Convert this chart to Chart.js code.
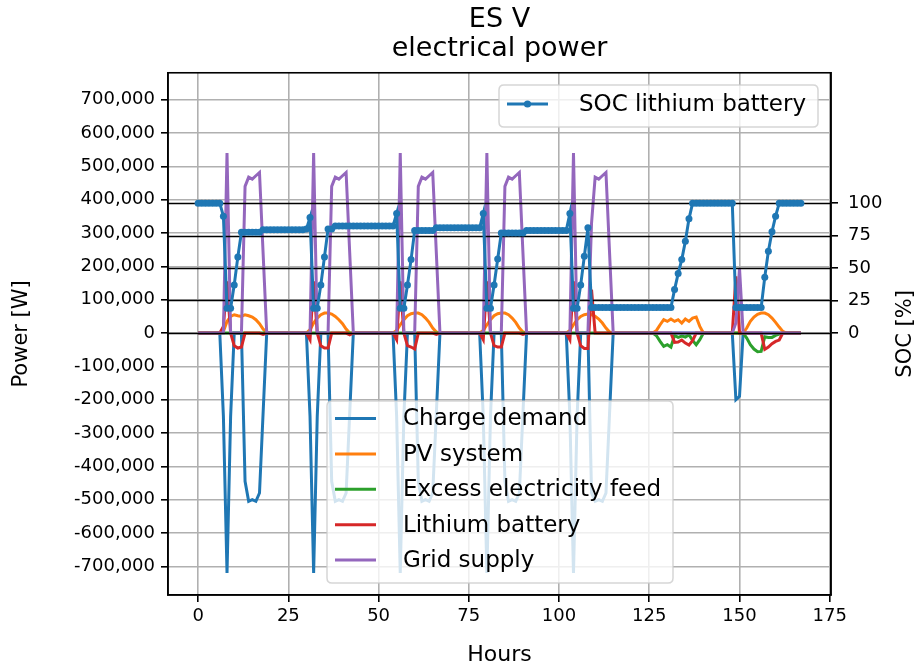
<!DOCTYPE html>
<html>
<head>
<meta charset="utf-8">
<script src="https://cdn.jsdelivr.net/npm/chart.js@4.4.1/dist/chart.umd.min.js"></script>
<style>
html, body { margin: 0; padding: 0; background: #fff; }
</style>
</head>
<body>
<canvas id="chart" width="923" height="666"></canvas>
<script>
//tick values for the three axes
const xTicks = [0, 25, 50, 75, 100, 125, 150, 175];
const powerTicks = [-700000, -600000, -500000, -400000, -300000, -200000, -100000, 0, 100000, 200000, 300000, 400000, 500000, 600000, 700000];
const socTicks = [0, 25, 50, 75, 100];

//one value per hour, 168 hours (one week), rows are days
const chargeDemand = [
    0, 0, 0, 0, 0, 0, 0, -250000, -720000, -250000, 0, 0, 0, -445000, -505000, -500000, -505000, -480000, -240000, 0, 0, 0, 0, 0,
    0, 0, 0, 0, 0, 0, 0, -250000, -720000, -250000, 0, 0, 0, -445000, -505000, -500000, -505000, -480000, -240000, 0, 0, 0, 0, 0,
    0, 0, 0, 0, 0, 0, 0, -250000, -720000, -250000, 0, 0, 0, -445000, -505000, -500000, -505000, -480000, -240000, 0, 0, 0, 0, 0,
    0, 0, 0, 0, 0, 0, 0, -250000, -720000, -250000, 0, 0, 0, -445000, -505000, -500000, -505000, -480000, -240000, 0, 0, 0, 0, 0,
    0, 0, 0, 0, 0, 0, 0, -250000, -720000, -250000, 0, 0, 0, -480000, -505000, -500000, -505000, -480000, -240000, 0, 0, 0, 0, 0,
    0, 0, 0, 0, 0, 0, 0, 0, 0, 0, 0, 0, 0, 0, 0, 0, 0, 0, 0, 0, 0, 0, 0, 0,
    0, 0, 0, 0, 0, -200000, -190000, 0, 0, 0, 0, 0, 0, 0, 0, 0, 0, 0, 0, 0, 0, 0, 0, 0
];
const pvSystem = [
    0, 0, 0, 0, 0, 0, 0, 5000, 35000, 50000, 55000, 52000, 50000, 55000, 52000, 48000, 40000, 28000, 12000, 0, 0, 0, 0, 0,
    0, 0, 0, 0, 0, 0, 0, 10000, 30000, 45000, 55000, 60000, 60000, 57000, 50000, 40000, 28000, 12000, 0, 0, 0, 0, 0, 0,
    0, 0, 0, 0, 0, 0, 0, 8000, 25000, 40000, 52000, 58000, 60000, 60000, 55000, 45000, 32000, 15000, 3000, 0, 0, 0, 0, 0,
    0, 0, 0, 0, 0, 0, 0, 8000, 25000, 40000, 52000, 58000, 60000, 60000, 55000, 45000, 32000, 15000, 3000, 0, 0, 0, 0, 0,
    0, 0, 0, 0, 0, 0, 0, 8000, 25000, 40000, 50000, 55000, 57000, 55000, 50000, 42000, 30000, 15000, 3000, 0, 0, 0, 0, 0,
    0, 0, 0, 0, 0, 0, 0, 8000, 25000, 40000, 35000, 42000, 35000, 40000, 30000, 42000, 35000, 45000, 48000, 20000, 0, 0, 0, 0,
    0, 0, 0, 0, 0, 0, 0, 0, 15000, 35000, 48000, 56000, 60000, 60000, 55000, 45000, 32000, 18000, 5000, 0, 0, 0, 0, 0
];
const excessFeed = [
    0, 0, 0, 0, 0, 0, 0, 0, 0, 0, 0, 0, 0, 0, 0, 0, 0, 0, 0, 0, 0, 0, 0, 0,
    0, 0, 0, 0, 0, 0, 0, 0, 0, 0, 0, 0, 0, 0, 0, 0, 0, 0, 0, 0, 0, 0, 0, 0,
    0, 0, 0, 0, 0, 0, 0, 0, 0, 0, 0, 0, 0, 0, 0, 0, 0, 0, 0, 0, 0, 0, 0, 0,
    0, 0, 0, 0, 0, 0, 0, 0, 0, 0, 0, 0, 0, 0, 0, 0, 0, 0, 0, 0, 0, 0, 0, 0,
    0, 0, 0, 0, 0, 0, 0, 0, 0, 0, 0, 0, 0, 0, 0, 0, 0, 0, 0, 0, 0, 0, 0, 0,
    0, 0, 0, 0, 0, 0, 0, -8000, -25000, -40000, -35000, -42000, -7000, -13000, -9000, -12000, -5000, -22000, -35000, -20000, 0, 0, 0, 0,
    0, 0, 0, 0, 0, 0, 0, 0, -15000, -35000, -48000, -56000, -55000, -11000, -13000, -13000, -7000, -3000, 0, 0, 0, 0, 0, 0
];
const lithiumBattery = [
    0, 0, 0, 0, 0, 0, 0, 20000, 155000, 0, -38000, -45000, -42000, 0, 0, 0, 0, 0, -4000, 0, 0, 0, 0, 0,
    0, 0, 0, 0, 0, 0, 0, -20000, 155000, 0, -38000, -45000, -45000, 0, 0, 0, 0, 0, -5000, 0, 0, 0, 0, 0,
    0, 0, 0, 0, 0, 0, 0, -20000, 155000, 0, -38000, -42000, -48000, 0, 0, 0, 0, 0, -4000, 0, 0, 0, 0, 0,
    0, 0, 0, 0, 0, 0, 0, -20000, 155000, 0, -38000, -42000, -42000, 0, 0, 0, 0, 0, -4000, 0, 0, 0, 0, 0,
    0, 0, 0, 0, 0, 0, 0, -20000, 155000, 0, -38000, -46000, -46000, 130000, 0, 0, 0, 0, 0, 0, 0, 0, 0, 0,
    0, 0, 0, 0, 0, 0, 0, 0, 0, 0, 0, 0, -28000, -27000, -21000, -30000, -36000, -23000, 0, 0, 0, 0, 0, 0,
    0, 0, 0, 0, 0, 170000, 0, 0, 0, 0, 0, 0, 0, -49000, -42000, -32000, -25000, -21000, 0, 0, 0, 0, 0, 0
];
const gridSupply = [
    0, 0, 0, 0, 0, 0, 0, 0, 540000, 0, 0, 0, 0, 440000, 468000, 462000, 472000, 482000, 240000, 0, 0, 0, 0, 0,
    0, 0, 0, 0, 0, 0, 0, 0, 540000, 0, 0, 0, 0, 440000, 468000, 462000, 472000, 482000, 240000, 0, 0, 0, 0, 0,
    0, 0, 0, 0, 0, 0, 0, 0, 540000, 0, 0, 0, 0, 440000, 468000, 462000, 472000, 482000, 240000, 0, 0, 0, 0, 0,
    0, 0, 0, 0, 0, 0, 0, 0, 540000, 0, 0, 0, 0, 440000, 468000, 462000, 472000, 482000, 240000, 0, 0, 0, 0, 0,
    0, 0, 0, 0, 0, 0, 0, 0, 540000, 0, 0, 0, 0, 330000, 468000, 462000, 472000, 482000, 240000, 0, 0, 0, 0, 0,
    0, 0, 0, 0, 0, 0, 0, 0, 0, 0, 0, 0, 0, 0, 0, 0, 0, 0, 0, 0, 0, 0, 0, 0,
    0, 0, 0, 0, 0, 30000, 195000, 0, 0, 0, 0, 0, 0, 0, 0, 0, 0, 0, 0, 0, 0, 0, 0, 0
];
const socBattery = [
    100, 100, 100, 100, 100, 100, 100, 90, 19, 19, 37, 58.6, 77.5, 77.5, 77.5, 77.5, 77.5, 77.5, 79.5, 79.5, 79.5, 79.5, 79.5, 79.5,
    79.5, 79.5, 79.5, 79.5, 79.5, 79.5, 80, 89, 19, 19, 37, 58.6, 80, 80, 82.5, 82.5, 82.5, 82.5, 82.5, 82.5, 82.5, 82.5, 82.5, 82.5,
    82.5, 82.5, 82.5, 82.5, 82.5, 82.5, 82.5, 92, 19, 19, 37, 56.5, 79, 79, 79, 79, 79, 79, 81, 81, 81, 81, 81, 81,
    81, 81, 81, 81, 81, 81, 81, 92, 19, 19, 37, 57, 77, 77, 77, 77, 77, 77, 77, 79, 79, 79, 79, 79,
    79, 79, 79, 79, 79, 79, 79, 92, 19, 19, 37, 59, 81, 19.5, 19.5, 19.5, 19.5, 19.5, 19.5, 19.5, 19.5, 19.5, 19.5, 19.5,
    19.5, 19.5, 19.5, 19.5, 19.5, 19.5, 19.5, 19.5, 19.5, 19.5, 19.5, 19.5, 33.4, 45.7, 56.5, 70.6, 87.9, 100, 100, 100, 100, 100, 100, 100,
    100, 100, 100, 100, 100, 19.6, 19.6, 19.6, 19.6, 19.6, 19.6, 19.6, 19.6, 43, 63, 78, 90, 100, 100, 100, 100, 100, 100, 100
];
const hours = socBattery.map((v, i) => i);

const fontFamily = 'DejaVu Sans';
const gridGrey = '#b0b0b0';

function toPoints(values) {
    return values.map((v, i) => ({x: hours[i], y: v}));
}

function setTicks(values) {
    return function(scale) {
        scale.ticks = values.map(v => ({value: v}));
    };
}

//power lines under the black SOC grid, SOC line on top (like a matplotlib twin axis)
const powerSeries = [
    {label: 'Charge demand', data: chargeDemand, color: '#1f77b4'},
    {label: 'PV system', data: pvSystem, color: '#ff7f0e'},
    {label: 'Excess electricity feed', data: excessFeed, color: '#2ca02c'},
    {label: 'Lithium battery', data: lithiumBattery, color: '#d62728'},
    {label: 'Grid supply', data: gridSupply, color: '#9467bd'}
];

const datasets = powerSeries.map((s, i) => ({
    label: s.label,
    data: toPoints(s.data),
    borderColor: s.color,
    backgroundColor: s.color,
    borderWidth: 3,
    pointRadius: 0,
    yAxisID: 'y',
    order: powerSeries.length - i
}));
datasets.push({
    label: 'SOC lithium battery',
    data: toPoints(socBattery),
    borderColor: '#1f77b4',
    backgroundColor: '#1f77b4',
    borderWidth: 3,
    pointRadius: 3.5,
    pointBorderWidth: 0,
    yAxisID: 'y2',
    order: 0
});

function roundRect(ctx, x, y, w, h, r) {
    ctx.beginPath();
    ctx.moveTo(x + r, y);
    ctx.lineTo(x + w - r, y);
    ctx.quadraticCurveTo(x + w, y, x + w, y + r);
    ctx.lineTo(x + w, y + h - r);
    ctx.quadraticCurveTo(x + w, y + h, x + w - r, y + h);
    ctx.lineTo(x + r, y + h);
    ctx.quadraticCurveTo(x, y + h, x, y + h - r);
    ctx.lineTo(x, y + r);
    ctx.quadraticCurveTo(x, y, x + r, y);
    ctx.closePath();
}

//draws a matplotlib style legend box
function drawLegend(ctx, box, items, withMarker) {
    ctx.save();
    roundRect(ctx, box.x, box.y, box.w, box.h, 5);
    ctx.fillStyle = 'rgba(255,255,255,0.8)';
    ctx.fill();
    ctx.strokeStyle = 'rgba(204,204,204,0.8)';
    ctx.lineWidth = 1.5;
    ctx.stroke();
    ctx.font = '23px ' + fontFamily;
    ctx.textBaseline = 'middle';
    ctx.fillStyle = '#000';
    items.forEach((it, i) => {
        const y = box.y + box.first + i * box.step;
        ctx.strokeStyle = it.color;
        ctx.lineWidth = 3;
        ctx.beginPath();
        ctx.moveTo(box.x + 8, y);
        ctx.lineTo(box.x + 8 + box.line, y);
        ctx.stroke();
        if (withMarker) {
            ctx.fillStyle = it.color;
            ctx.beginPath();
            ctx.arc(box.x + 8 + box.line / 2, y, 3.6, 0, Math.PI * 2);
            ctx.fill();
            ctx.fillStyle = '#000';
        }
        ctx.fillText(it.label, box.x + box.textX, y + 1);
    });
    ctx.restore();
}

const extras = {
    id: 'extras',
    afterDatasetDraw(chart, args) {
        //black grid of the SOC axis goes over the power lines but under the SOC line
        if (args.index !== powerSeries.length - 1) return;
        const ctx = chart.ctx;
        const area = chart.chartArea;
        const y2 = chart.scales.y2;
        ctx.save();
        ctx.strokeStyle = '#000';
        ctx.lineWidth = 1.6;
        socTicks.forEach(v => {
            const y = Math.round(y2.getPixelForValue(v)) + 0.5;
            ctx.beginPath();
            ctx.moveTo(area.left, y);
            ctx.lineTo(area.right, y);
            ctx.stroke();
        });
        ctx.restore();
    },
    afterDatasetsDraw(chart) {
        const ctx = chart.ctx;
        const area = chart.chartArea;
        ctx.save();
        ctx.strokeStyle = '#000';
        ctx.lineWidth = 1.6;
        ctx.strokeRect(area.left, area.top, area.right - area.left, area.bottom - area.top);
        ctx.restore();

        drawLegend(ctx, {x: 327, y: 401, w: 346, h: 182, first: 17.5, step: 35.4, line: 41, textX: 76},
            powerSeries.map(s => ({label: s.label, color: s.color})), false);
        drawLegend(ctx, {x: 499, y: 85, w: 319, h: 42, first: 19, step: 0, line: 41, textX: 80},
            [{label: 'SOC lithium battery', color: '#1f77b4'}], true);

        //right axis title, reading bottom to top like the left one
        ctx.save();
        ctx.translate(906, (area.top + area.bottom) / 2);
        ctx.rotate(-Math.PI / 2);
        ctx.font = '21px ' + fontFamily;
        ctx.fillStyle = '#000';
        ctx.textAlign = 'center';
        ctx.textBaseline = 'middle';
        ctx.fillText('SOC [%]', 0, 0);
        ctx.restore();
    }
};

new Chart(document.getElementById('chart'), {
    type: 'line',
    data: {datasets: datasets},
    plugins: [extras],
    options: {
        responsive: false,
        animation: false,
        devicePixelRatio: 1,
        layout: {padding: 0},
        plugins: {
            legend: {display: false},
            tooltip: {enabled: false},
            title: {
                display: true,
                fullSize: false,
                text: ['ES V', 'electrical power'],
                color: '#000',
                font: {family: fontFamily, size: 27, weight: 'normal', lineHeight: 1.07},
                padding: {top: 6, bottom: 9}
            }
        },
        scales: {
            x: {
                type: 'linear',
                min: -8.35,
                max: 175.35,
                afterBuildTicks: setTicks(xTicks),
                afterFit(scale) { scale.height = 71; },
                grid: {color: gridGrey, lineWidth: 1.6, tickColor: '#000', tickLength: 7},
                border: {color: '#000', width: 1.6},
                ticks: {color: '#000', font: {family: fontFamily, size: 18}, padding: 4, maxRotation: 0},
                title: {display: true, text: 'Hours', color: '#000', font: {family: fontFamily, size: 22, lineHeight: 1.0}, padding: {top: 0, bottom: 0}}
            },
            y: {
                position: 'left',
                min: -786000,
                max: 781000,
                afterBuildTicks: setTicks(powerTicks),
                afterFit(scale) { scale.width = 168; },
                grid: {color: gridGrey, lineWidth: 1.6, tickColor: '#000', tickLength: 7},
                border: {color: '#000', width: 1.6},
                ticks: {
                    color: '#000',
                    font: {family: fontFamily, size: 18},
                    padding: 6,
                    callback: v => v.toLocaleString('en-US')
                },
                title: {display: true, text: 'Power [W]', color: '#000', font: {family: fontFamily, size: 21}, padding: {top: 9, bottom: 0}}
            },
            y2: {
                position: 'right',
                min: -202,
                max: 200.5,
                afterBuildTicks: setTicks(socTicks),
                afterFit(scale) { scale.width = 92; },
                grid: {drawOnChartArea: false, color: '#000', lineWidth: 1.6, tickLength: 7},
                border: {color: '#000', width: 1.6},
                ticks: {color: '#000', font: {family: fontFamily, size: 18}, padding: 10}
            }
        }
    }
});
</script>
</body>
</html>
